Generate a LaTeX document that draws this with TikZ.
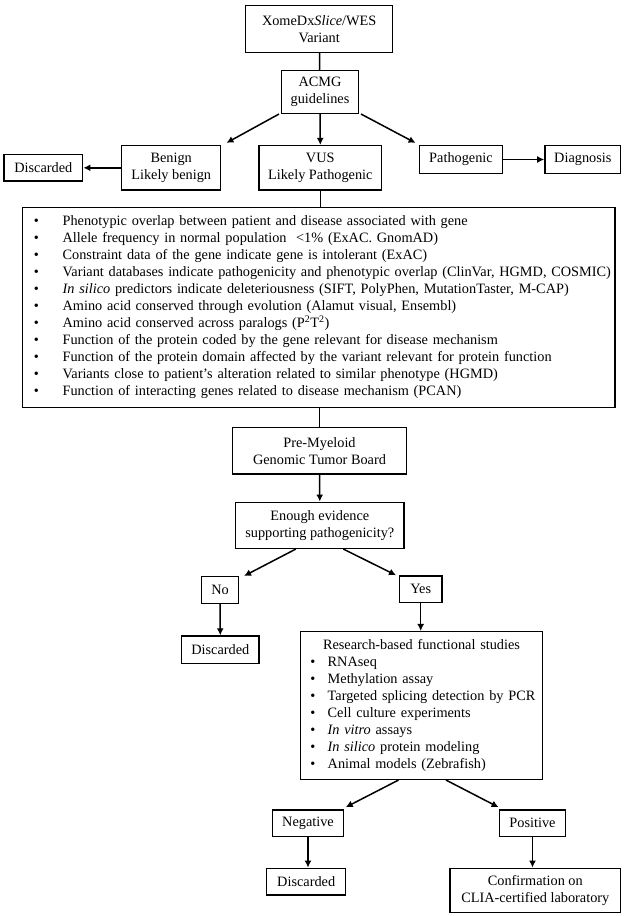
\documentclass[tikz,border=0pt]{standalone}
\usepackage{fontspec}
\setmainfont{Liberation Serif}
\usetikzlibrary{arrows.meta}

\tikzset{
  box/.style={draw, line width=1.5pt, align=center, inner sep=0pt},
  link/.style={line width=1.5pt},
  arr/.style={line width=1.5pt, -{Latex[length=7pt,width=7pt]}},
}
\newcommand{\critem}{\makebox[40pt][l]{\hspace{11.3pt}\textbullet}}
\newcommand{\stitem}{\makebox[27pt][l]{\hspace{9.6pt}\textbullet}}

\begin{document}
\begin{tikzpicture}[x=1pt,y=-1pt,font=\fontsize{14.3}{17}\selectfont]
  \useasboundingbox (0,0) rectangle (625,916);

  % top part
  \node[box, minimum width=147pt, minimum height=46.6pt] (xome) at (319.2,29) {XomeDx\textit{Slice}/WES\\Variant};
  \node[box, minimum width=76.6pt, minimum height=42.6pt] (acmg) at (320,92) {ACMG\\guidelines};
  \node[box, minimum width=99pt, minimum height=44.3pt] (benign) at (171.2,167.8) {Benign\\Likely benign};
  \node[box, minimum width=122.7pt, minimum height=44.3pt] (vus) at (320.3,167.8) {VUS\\Likely Pathogenic};
  \node[box, minimum width=78.7pt, minimum height=26.7pt] (discA) at (43.3,167.8) {Discarded};
  \node[box, minimum width=83.4pt, minimum height=27.6pt] (patho) at (461,159.5) {Pathogenic};
  \node[box, minimum width=75.7pt, minimum height=27.6pt] (diag) at (582.8,159.5) {Diagnosis};

  % evidence criteria
  \node[box, align=left, text width=592.3pt, minimum height=200pt] (criteria) at (318.8,307.3) {%
    \critem Phenotypic overlap between patient and disease associated with gene\\
    \critem Allele frequency in normal population \ <1\% (ExAC. GnomAD)\\
    \critem Constraint data of the gene indicate gene is intolerant (ExAC)\\
    \critem Variant databases indicate pathogenicity and phenotypic overlap (ClinVar, HGMD, COSMIC)\\
    \critem \textit{In silico} predictors indicate deleteriousness (SIFT, PolyPhen, MutationTaster, M-CAP)\\
    \critem Amino acid conserved through evolution (Alamut visual, Ensembl)\\
    \critem Amino acid conserved across paralogs (P\textsuperscript{2}T\textsuperscript{2})\\
    \critem Function of the protein coded by the gene relevant for disease mechanism\\
    \critem Function of the protein domain affected by the variant relevant for protein function\\
    \critem Variants close to patient’s alteration related to similar phenotype (HGMD)\\
    \critem Function of interacting genes related to disease mechanism (PCAN)};

  % board and decision
  \node[box, minimum width=174.4pt, minimum height=46.3pt] (board) at (319.5,450.8) {Pre-Myeloid\\Genomic Tumor Board};
  \node[box, minimum width=168.3pt, minimum height=46pt] (evidence) at (319.8,525.3) {Enough evidence\\supporting pathogenicity?};
  \node[box, minimum width=36.6pt, minimum height=26.6pt] (no) at (220,590) {No};
  \node[box, minimum width=42.7pt, minimum height=26.7pt] (yes) at (420.7,589.3) {Yes};
  \node[box, minimum width=77.3pt, minimum height=27.3pt] (discB) at (220.3,649.7) {Discarded};

  % functional studies
  \node[box, align=left, text width=241.6pt, minimum height=147.6pt] (studies) at (421.5,705.5) {%
    \makebox[241.6pt]{Research-based functional studies}\\
    \stitem RNAseq\\
    \stitem Methylation assay\\
    \stitem Targeted splicing detection by PCR\\
    \stitem Cell culture experiments\\
    \stitem \textit{In vitro} assays\\
    \stitem \textit{In silico} protein modeling\\
    \stitem Animal models (Zebrafish)};

  \node[box, minimum width=70.6pt, minimum height=26.7pt] (neg) at (308,823.3) {Negative};
  \node[box, minimum width=66.4pt, minimum height=26.7pt] (pos) at (532.5,823.3) {Positive};
  \node[box, minimum width=79pt, minimum height=26.7pt] (discC) at (306.2,881.7) {Discarded};
  \node[box, minimum width=170.7pt, minimum height=44pt] (confirm) at (535.3,890.3) {Confirmation on\\CLIA-certified laboratory};

  % connectors
  \draw[link] (xome) -- (acmg);
  \draw[arr] ([xshift=-2pt]acmg.south west) -- ([xshift=5pt,yshift=2pt]benign.north east);
  \draw[arr] (acmg.south) -- (vus.north);
  \draw[arr] ([xshift=2pt]acmg.south east) -- ([xshift=-3pt,yshift=2pt]patho.north west);
  \draw[arr] (benign.west) -- (discA.east);
  \draw[arr] (patho.east) -- (diag.west);
  \draw[link] (vus.south) -- (criteria.north -| vus.south);
  \draw[link] (criteria.south -| board.north) -- (board.north);
  \draw[arr] (board.south) -- (evidence.north);
  \draw[arr] ([xshift=-24pt]evidence.south) -- ([xshift=5pt]no.north east);
  \draw[arr] ([xshift=23.5pt]evidence.south) -- ([xshift=-2.6pt]yes.north west);
  \draw[arr] (no.south) -- (discB.north);
  \draw[arr] (yes.south) -- (studies.north -| yes.south);
  \draw[arr] ([xshift=-23pt]studies.south) -- ([xshift=1.7pt,yshift=2pt]neg.north east);
  \draw[arr] ([xshift=24.5pt]studies.south) -- ([yshift=2pt]pos.north west);
  \draw[arr] (neg.south) -- (discC.north -| neg.south);
  \draw[arr] (pos.south) -- (confirm.north -| pos.south);
\end{tikzpicture}
\end{document}
